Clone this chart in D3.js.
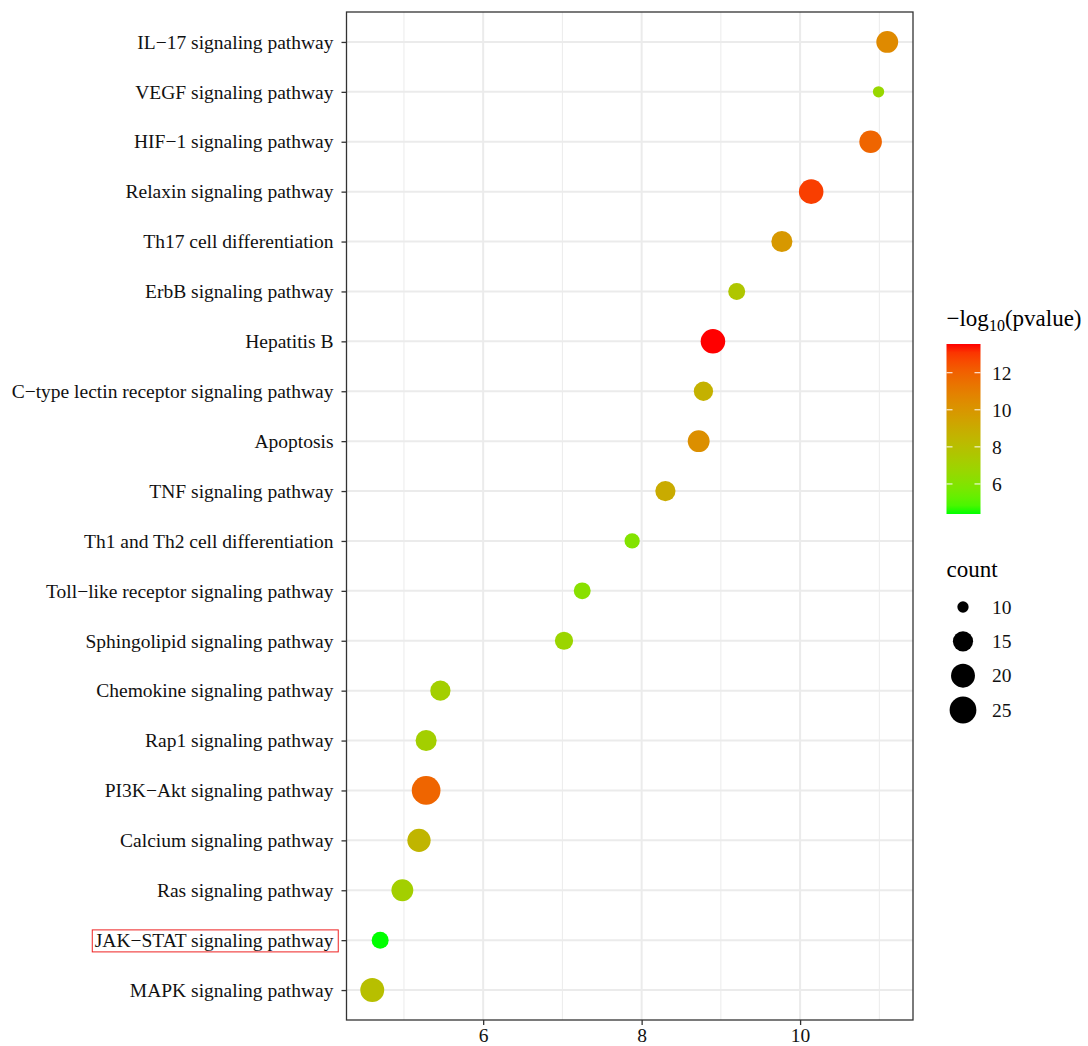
<!DOCTYPE html>
<html><head><meta charset="utf-8">
<script src="https://cdn.jsdelivr.net/npm/d3@7"></script>
<style>
body{margin:0;background:#fff}
text{font-family:"Liberation Serif","Times New Roman",serif}
</style>
</head><body>
<svg id="chart" width="1088" height="1046"></svg>
<script>
// ---- data (top to bottom as displayed) ----
const pathways = [
  "IL−17 signaling pathway",
  "VEGF signaling pathway",
  "HIF−1 signaling pathway",
  "Relaxin signaling pathway",
  "Th17 cell differentiation",
  "ErbB signaling pathway",
  "Hepatitis B",
  "C−type lectin receptor signaling pathway",
  "Apoptosis",
  "TNF signaling pathway",
  "Th1 and Th2 cell differentiation",
  "Toll−like receptor signaling pathway",
  "Sphingolipid signaling pathway",
  "Chemokine signaling pathway",
  "Rap1 signaling pathway",
  "PI3K−Akt signaling pathway",
  "Calcium signaling pathway",
  "Ras signaling pathway",
  "JAK−STAT signaling pathway",
  "MAPK signaling pathway"
];
const xValues = [11.10, 10.99, 10.89, 10.14, 9.77, 9.20, 8.90, 8.78, 8.72, 8.30,
                 7.88, 7.25, 7.02, 5.46, 5.28, 5.28, 5.19, 4.98, 4.70, 4.60];
const counts  = [17, 10, 18, 21, 16, 12, 21, 14, 17, 15,
                 11, 12, 13, 15, 16, 29, 19, 17, 12, 20];
const logP    = [10.5, 6.7, 11.9, 12.9, 9.9, 7.6, 13.55, 8.7, 10.3, 9.0,
                 6.0, 6.2, 6.8, 7.1, 7.1, 11.9, 8.5, 7.1, 4.38, 8.0];
const xTicks = [6, 8, 10];
const xMinorTicks = [5, 7, 9, 11];
const colorTicks = [6, 8, 10, 12];
const sizeBreaks = [10, 15, 20, 25];
const highlighted = "JAK−STAT signaling pathway";

// ---- layout ----
const svg = d3.select("#chart");
const P = {left: 346.5, right: 913, top: 12, bottom: 1020};
const fontAxis = 19.5;
const fontTitle = 23;

const xExt = d3.extent(xValues), span = xExt[1] - xExt[0];
const x = d3.scaleLinear().domain([xExt[0] - 0.05*span, xExt[1] + 0.05*span]).range([P.left, P.right]);
const y = d3.scalePoint().domain(pathways).range([P.top, P.bottom]).padding(0.6);
const color = d3.scaleLinear().domain(d3.extent(logP)).range(["#00FF00", "#FF0000"]).interpolate(d3.interpolateLab);
const cExt = d3.extent(counts);
const dMin = 11.3, dMax = 28.7;
const diam = c => dMin + (dMax - dMin) * Math.sqrt((c - cExt[0]) / (cExt[1] - cExt[0]));

// grid
const g = svg.append("g");
g.selectAll(".minor").data(xMinorTicks).join("line")
  .attr("x1", d => x(d)).attr("x2", d => x(d)).attr("y1", P.top).attr("y2", P.bottom)
  .attr("stroke", "#ebebeb").attr("stroke-width", 1);
g.selectAll(".majorx").data(xTicks).join("line")
  .attr("x1", d => x(d)).attr("x2", d => x(d)).attr("y1", P.top).attr("y2", P.bottom)
  .attr("stroke", "#ebebeb").attr("stroke-width", 2);
g.selectAll(".majory").data(pathways).join("line")
  .attr("x1", P.left).attr("x2", P.right).attr("y1", d => y(d)).attr("y2", d => y(d))
  .attr("stroke", "#ebebeb").attr("stroke-width", 2);

// points
svg.append("g").selectAll("circle").data(pathways).join("circle")
  .attr("cx", (d, i) => x(xValues[i]))
  .attr("cy", d => y(d))
  .attr("r", (d, i) => diam(counts[i]) / 2)
  .attr("fill", (d, i) => color(logP[i]));

// panel border
svg.append("rect").attr("x", P.left).attr("y", P.top)
  .attr("width", P.right - P.left).attr("height", P.bottom - P.top)
  .attr("fill", "none").attr("stroke", "#333333").attr("stroke-width", 1.3);

// axes
const xAxis = svg.append("g").attr("transform", `translate(0,${P.bottom})`)
  .call(d3.axisBottom(x).tickValues(xTicks).tickSize(5).tickPadding(3).tickFormat(d3.format("d")));
const yAxis = svg.append("g").attr("transform", `translate(${P.left},0)`)
  .call(d3.axisLeft(y).tickSize(5).tickPadding(8));
[xAxis, yAxis].forEach(a => {
  a.select(".domain").remove();
  a.selectAll(".tick line").attr("stroke", "#333333").attr("stroke-width", 1.3);
  a.selectAll(".tick text").attr("fill", "#111").style("font-size", fontAxis + "px")
    .style("font-family", '"Liberation Serif","Times New Roman",serif');
});

// highlight box
yAxis.selectAll(".tick").filter(d => d === highlighted).each(function() {
  const t = d3.select(this).select("text");
  const bb = t.node().getBBox();
  d3.select(this).insert("rect", "text")
    .attr("x", bb.x - 2.5).attr("y", bb.y).attr("width", bb.width + 7).attr("height", bb.height + 1)
    .attr("fill", "none").attr("stroke", "#ee2222").attr("stroke-width", 1);
});

// ---- colour legend ----
const L = {x: 946.5, barW: 34, top: 344, bottom: 514};
const cl = svg.append("g");
const ct = cl.append("text").attr("x", L.x).attr("y", 326).attr("fill", "#000").style("font-size", fontTitle + "px");
ct.append("tspan").text("−log");
ct.append("tspan").text("10").attr("dy", 5).style("font-size", "16px");
ct.append("tspan").text("(pvalue)").attr("dy", -5);

const cScale = d3.scaleLinear().domain(color.domain()).range([L.bottom, L.top]);
const defs = svg.append("defs");
const grad = defs.append("linearGradient").attr("id", "cgrad").attr("x1", 0).attr("x2", 0).attr("y1", 1).attr("y2", 0);
d3.range(0, 1.0001, 0.05).forEach(t => {
  const v = color.domain()[0] + t * (color.domain()[1] - color.domain()[0]);
  grad.append("stop").attr("offset", t).attr("stop-color", color(v));
});
cl.append("rect").attr("x", L.x).attr("y", L.top).attr("width", L.barW).attr("height", L.bottom - L.top)
  .attr("fill", "url(#cgrad)");
colorTicks.forEach(v => {
  const yy = cScale(v);
  cl.append("line").attr("x1", L.x).attr("x2", L.x + 6).attr("y1", yy).attr("y2", yy).attr("stroke", "#fff").attr("stroke-width", 1);
  cl.append("line").attr("x1", L.x + L.barW - 6).attr("x2", L.x + L.barW).attr("y1", yy).attr("y2", yy).attr("stroke", "#fff").attr("stroke-width", 1);
  cl.append("text").attr("x", 992).attr("y", yy).attr("dy", "0.35em").attr("fill", "#111")
    .style("font-size", fontAxis + "px").text(v);
});

// ---- size legend ----
const sl = svg.append("g");
sl.append("text").attr("x", L.x).attr("y", 577).attr("fill", "#000").style("font-size", fontTitle + "px").text("count");
const keyY = d3.scalePoint().domain(sizeBreaks).range([607, 710]);
sizeBreaks.forEach(b => {
  sl.append("circle").attr("cx", 963).attr("cy", keyY(b)).attr("r", diam(b) / 2).attr("fill", "#000");
  sl.append("text").attr("x", 992).attr("y", keyY(b)).attr("dy", "0.35em").attr("fill", "#111")
    .style("font-size", fontAxis + "px").text(b);
});
</script>
</body></html>
